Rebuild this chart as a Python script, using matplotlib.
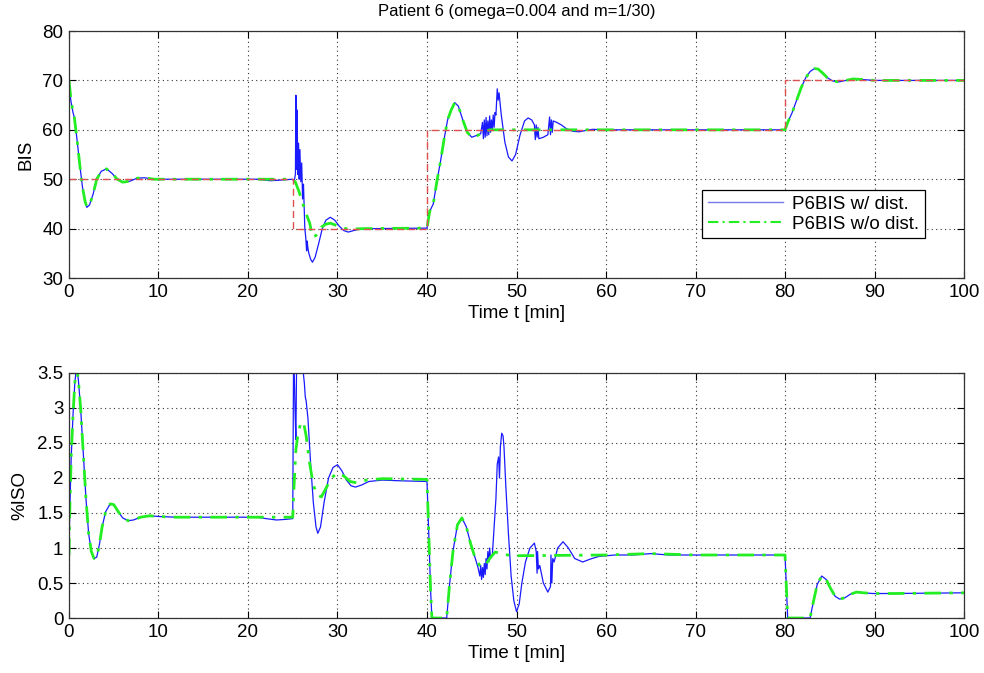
import matplotlib
matplotlib.use("Agg")
import matplotlib.pyplot as plt
from matplotlib.lines import Line2D

plt.rcParams['font.family'] = ['Liberation Sans', 'DejaVu Sans']
plt.rcParams['font.size'] = 13

# ---------------- BIS (top panel) ----------------
bis_ref_t = [0, 25, 25, 40, 40, 80, 80, 100]
bis_ref_v = [50, 50, 40, 40, 60, 60, 70, 70]

bis_nodist_t = [0, 0.2, 0.45, 0.6, 0.9, 1.2, 1.5, 1.8, 2.0, 2.3, 2.7, 3.1, 3.6, 4.2, 4.8, 5.4, 6.0,
                6.8, 7.6, 8.4, 9.5, 11, 25.0,
                25.3, 25.7, 26.1, 26.5, 26.9, 27.2, 27.6, 28.2, 28.7, 29.2, 29.8, 30.4, 31.2, 33, 40.0,
                40.3, 40.7, 41.1, 41.5, 41.9, 42.3, 42.7, 43.1, 43.5, 44.0, 44.5, 45.0, 45.6, 46.2, 47.0, 80.0,
                80.3, 80.8, 81.3, 81.8, 82.3, 82.8, 83.3, 83.7, 84.2, 84.7, 85.3, 86.0, 86.8, 87.6, 88.5, 90, 100]
bis_nodist_v = [70, 66.5, 63.5, 62.5, 58, 53, 48.5, 45.5, 44.4, 44.8, 47, 50, 51.6, 52.1, 51.2, 50, 49.4,
                49.6, 50.2, 50.3, 50.0, 50, 50,
                49.4, 47.5, 45.2, 43.0, 41.1, 38.3, 38.6, 40.3, 40.9, 41.1, 40.7, 40.2, 39.9, 40, 40.1,
                43.5, 45, 49.5, 53.5, 58, 62, 64, 65.5, 64.8, 62, 59.5, 58.5, 58.8, 59.4, 60, 60,
                61.5, 63.5, 66, 68.5, 70.5, 71.8, 72.4, 72.3, 71.5, 70.6, 69.9, 69.7, 70.0, 70.3, 70.2, 70, 70]

bis_dist_t = [0, 0.2, 0.45, 0.6, 0.9, 1.2, 1.5, 1.8, 2.0, 2.3, 2.7, 3.1, 3.6, 4.2, 4.8, 5.4, 6.0,
              6.8, 7.6, 8.4, 9.5, 11, 21, 22.5, 23.5, 25.0,
              25.15, 25.3, 25.35, 25.42, 25.5, 25.55, 25.65, 25.72, 25.8, 25.9, 26.0, 26.1, 26.2,
              26.35, 26.45, 26.55, 26.6, 26.7, 26.8, 27.0, 27.2, 27.5, 27.9, 28.3, 28.7, 29.2, 29.7,
              30.2, 30.7, 31.2, 31.8, 32.5, 34, 40.0,
              40.3, 40.7, 41.1, 41.5, 41.9, 42.3, 42.7, 43.1, 43.5, 44.0, 44.5, 45.0, 45.6, 46.0,
              46.2, 46.3, 46.4, 46.5, 46.6, 46.7, 46.8, 46.9, 47.0, 47.1, 47.2, 47.3, 47.4, 47.5, 47.6,
              47.7, 47.85, 47.95, 48.05, 48.3, 48.7, 49.1, 49.5, 49.9, 50.4, 50.9, 51.3, 51.7, 52.0,
              52.1, 52.2, 52.3, 52.4, 52.5, 53.0, 53.5, 53.7, 53.8, 53.9, 54.0, 54.1, 54.5, 55.0,
              55.6, 56.3, 57.0, 57.8, 58.5, 60, 80.0,
              80.3, 80.8, 81.3, 81.8, 82.3, 82.8, 83.3, 83.7, 84.2, 84.7, 85.3, 86.0, 86.8, 87.6, 88.5, 90, 100]
bis_dist_v = [70, 66.0, 63.5, 62.5, 58, 53, 48.5, 45.5, 44.3, 44.8, 47, 50, 51.6, 52.1, 51.2, 50, 49.4,
              49.6, 50.2, 50.3, 50.0, 50, 50, 49.7, 49.8, 50,
              49.5, 51, 67, 52, 64, 51, 57.3, 50, 56, 49.5, 53.3, 46, 49,
              40, 38.3, 35.5, 37.5, 36, 35, 33.8, 33.2, 34.2, 37, 40, 41.7, 42.3, 41.7,
              40.5, 39.6, 39.3, 39.6, 39.9, 40, 40.1,
              43.5, 45, 49.5, 53.5, 58, 62, 64, 65.5, 64.8, 62, 59.5, 58.5, 58.9, 59.2,
              61.5, 58.2, 62.0, 58.5, 62.5, 58.8, 61.8, 59.0, 62.8, 59.5, 62.0, 60.0, 63.0, 60.5, 63.5,
              63, 68.3, 66, 67.5, 63, 57.5, 54.5, 53.7, 55, 59, 61.8, 62.4, 62, 61,
              58, 61, 58.5, 60.5, 58.2, 58.5, 59, 62.6, 59, 62, 59.5, 61.8, 61.5, 61.0,
              60.2, 59.7, 59.6, 59.9, 60.1, 60, 60,
              61.5, 63.5, 66, 68.5, 70.5, 71.8, 72.4, 72.3, 71.5, 70.6, 69.9, 69.7, 70.0, 70.3, 70.2, 70, 70]

# ---------------- %ISO (bottom panel) ----------------
iso_nodist_t = [0, 0.1, 0.25, 0.45, 0.65, 0.85, 1.05, 1.3, 1.6, 1.9, 2.2, 2.5, 2.8, 3.1, 3.4, 3.7, 4.1,
                4.6, 5.0, 5.5, 6.0, 6.6, 7.2, 8.0, 9.0, 10, 12, 25.0,
                25.15, 25.35, 25.6, 25.9, 26.2, 26.5, 26.9, 27.3, 27.7, 28.2, 28.7, 29.3, 30.0, 30.7,
                31.4, 32.2, 33.2, 35, 40.0,
                40.2, 40.4, 40.55, 42.2, 42.5, 42.9, 43.4, 43.9, 44.4, 44.9, 45.4, 45.9, 46.2, 46.6,
                47.0, 47.6, 48.2, 49, 50, 60, 65, 70, 80.0,
                80.3, 82.8, 83.2, 83.6, 84.1, 84.6, 85.1, 85.6, 86.1, 86.7, 87.3, 88.0, 88.8, 89.8, 92, 100]
iso_nodist_v = [0.9, 1.6, 2.3, 2.9, 3.35, 3.6, 3.4, 3.0, 2.35, 1.7, 1.2, 0.95, 0.85, 0.87, 1.05, 1.3, 1.52,
                1.63, 1.62, 1.52, 1.43, 1.39, 1.40, 1.44, 1.46, 1.45, 1.44, 1.44,
                1.9, 2.4, 2.65, 2.78, 2.8, 2.6, 2.2, 1.9, 1.76, 1.73, 1.85, 2.0, 2.07, 2.03,
                1.95, 1.93, 1.97, 1.99, 1.98,
                1.2, 0.4, 0.0, 0.0, 0.45, 0.95, 1.33, 1.43, 1.3, 1.05, 0.85, 0.75, 0.73, 0.77,
                0.85, 0.94, 0.93, 0.9, 0.89, 0.9, 0.92, 0.9, 0.9,
                0.0, 0.0, 0.25, 0.48, 0.6, 0.55, 0.42, 0.31, 0.27, 0.29, 0.34, 0.37, 0.36, 0.35, 0.35, 0.36]

iso_dist_t = [0, 0.1, 0.25, 0.45, 0.65, 0.85, 1.05, 1.3, 1.6, 1.9, 2.2, 2.5, 2.8, 3.1, 3.4, 3.7, 4.1,
              4.6, 5.0, 5.5, 6.0, 6.6, 7.2, 8.0, 9.0, 10, 12, 21, 22, 23.2, 24.3, 25.0,
              25.1, 25.25, 25.35, 25.45, 25.6, 25.75, 25.9, 26.1, 26.3, 26.4, 26.5, 26.7, 27.0, 27.3,
              27.6, 27.8, 28.1, 28.5, 29.0, 29.5, 30.0, 30.5, 31.0, 31.5, 32.0, 32.7, 33.5, 35, 37, 40.0,
              40.2, 40.4, 40.55, 42.2, 42.5, 42.9, 43.4, 43.9, 44.4, 44.9, 45.4,
              45.7, 45.9, 46.0, 46.1, 46.2, 46.3, 46.4, 46.5, 46.6, 46.7, 46.8, 46.9, 47.0, 47.1, 47.3,
              47.5, 47.7, 47.85, 48.0, 48.1, 48.2, 48.35, 48.5, 48.6, 48.8, 49.1, 49.4, 49.7, 50.0,
              50.3, 50.6, 51.0, 51.5, 52.0, 52.2, 52.3, 52.35, 52.45, 52.6, 53.0, 53.5, 53.8, 53.85,
              53.95, 54.05, 54.2, 54.6, 55.2, 55.8, 56.5, 57.4, 58.2, 59.2, 61, 63, 65, 67, 80.0,
              80.3, 82.8, 83.2, 83.6, 84.1, 84.6, 85.1, 85.6, 86.1, 86.7, 87.3, 88.0, 88.8, 89.8, 92, 100]
iso_dist_v = [1.0, 1.6, 2.3, 2.9, 3.35, 3.6, 3.4, 3.0, 2.35, 1.7, 1.2, 0.95, 0.85, 0.87, 1.05, 1.3, 1.52,
              1.63, 1.62, 1.52, 1.43, 1.39, 1.40, 1.44, 1.46, 1.45, 1.44, 1.44, 1.42, 1.40, 1.41, 1.42,
              3.9, 3.0, 2.55, 3.9, 3.7, 3.9, 3.8, 3.6, 3.35, 3.16, 3.1, 2.85, 2.2, 1.65,
              1.3, 1.21, 1.3, 1.65, 2.0, 2.15, 2.19, 2.1, 1.97, 1.89, 1.87, 1.9, 1.95, 1.97, 1.96, 1.95,
              1.2, 0.4, 0.0, 0.0, 0.45, 0.95, 1.33, 1.43, 1.3, 1.05, 0.85,
              0.72, 0.6, 0.75, 0.55, 0.72, 0.58, 0.78, 0.62, 0.85, 0.7, 0.95, 0.8, 1.0, 0.85, 0.9,
              1.3, 1.7, 2.2, 2.3, 2.0, 2.45, 2.64, 2.6, 2.45, 1.9, 1.2, 0.6, 0.25, 0.09,
              0.2, 0.5, 0.8, 1.0, 1.07, 0.95, 0.64, 0.95, 0.7, 0.75, 0.5, 0.37, 0.45, 0.9,
              0.5, 0.85, 0.8, 1.0, 1.09, 1.0, 0.85, 0.80, 0.84, 0.88, 0.9, 0.9, 0.92, 0.9, 0.9,
              0.0, 0.0, 0.25, 0.48, 0.6, 0.55, 0.42, 0.31, 0.27, 0.29, 0.34, 0.37, 0.36, 0.35, 0.35, 0.36]

x_ticks = list(range(0, 101, 10))
bis_ticks = [30, 40, 50, 60, 70, 80]
iso_ticks = [0, 0.5, 1, 1.5, 2, 2.5, 3, 3.5]
iso_tick_labels = ['0', '0.5', '1', '1.5', '2', '2.5', '3', '3.5']

BLUE = '#1a1aff'
GREEN = '#22ee22'
RED = '#e05050'
FS = 13.5

fig = plt.figure(figsize=(9.84, 6.73), dpi=100)
ax1 = fig.add_axes([0.0701, 0.5869, 0.9096, 0.3670])
ax2 = fig.add_axes([0.0701, 0.0817, 0.9096, 0.3641])


def style_axes(ax):
    ax.set_xlim(0, 100)
    ax.set_xticks(x_ticks)
    ax.grid(True, linestyle=(0, (1, 3)), color='#333333', linewidth=0.8)
    ax.tick_params(direction='in', top=True, right=True, length=5, width=0.8,
                   labelsize=FS, pad=4)
    for s in ax.spines.values():
        s.set_linewidth(0.9)
        s.set_color('#333333')
    ax.set_xlabel('Time t [min]', fontsize=FS, labelpad=3)


# top panel
ax1.plot(bis_dist_t, bis_dist_v, color=BLUE, linewidth=0.9)
ax1.plot(bis_nodist_t, bis_nodist_v, color=GREEN, linewidth=2.0, linestyle=(0, (6, 3, 1.2, 3)))
ax1.plot(bis_ref_t, bis_ref_v, color=RED, linewidth=1.0, linestyle=(0, (5, 3)))
ax1.set_ylim(30, 80)
ax1.set_yticks(bis_ticks)
style_axes(ax1)
ax1.set_ylabel('BIS', fontsize=FS, labelpad=6)
ax1.set_title('Patient 6 (omega=0.004 and m=1/30)', fontsize=12, pad=11)

handles = [Line2D([], [], color='#7777ee', linewidth=1.0),
           Line2D([], [], color=GREEN, linewidth=1.5, linestyle=(0, (5, 2, 1, 2)))]
leg = ax1.legend(handles, ['P6BIS w/ dist.', 'P6BIS w/o dist.'], loc='upper right',
                 bbox_to_anchor=(0.956, 0.356), fancybox=False, framealpha=1,
                 edgecolor='black', fontsize=FS, handlelength=4.0, borderpad=0.3,
                 labelspacing=0.15, handletextpad=0.5, borderaxespad=0)
leg.get_frame().set_linewidth(0.9)

# bottom panel
ax2.plot(iso_dist_t, iso_dist_v, color=BLUE, linewidth=0.9)
ax2.plot(iso_nodist_t, iso_nodist_v, color=GREEN, linewidth=2.0, linestyle=(0, (6, 3, 1.2, 3)))
ax2.set_ylim(0, 3.5)
ax2.set_yticks(iso_ticks)
ax2.set_yticklabels(iso_tick_labels)
style_axes(ax2)
ax2.set_ylabel('%ISO', fontsize=FS, labelpad=6)

fig.savefig('out.png', dpi=100)
